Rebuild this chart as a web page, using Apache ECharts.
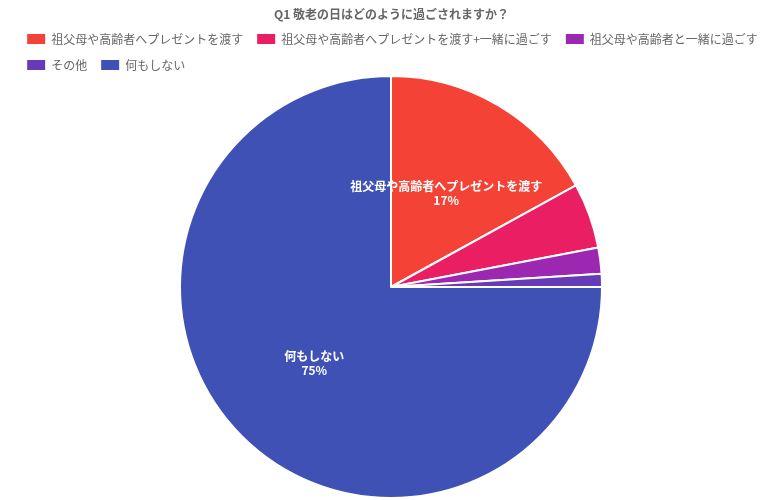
<!DOCTYPE html>
<html>
<head>
<meta charset="utf-8">
<script src="https://cdn.jsdelivr.net/npm/echarts@6/dist/echarts.min.js"></script>
<style>
  html, body { margin: 0; padding: 0; background: #fff; }
  #chart { width: 783px; height: 500px; }
</style>
</head>
<body>
<div id="chart"></div>
<script>
var categories = ['祖父母や高齢者へプレゼントを渡す', '祖父母や高齢者へプレゼントを渡す+一緒に過ごす', '祖父母や高齢者と一緒に過ごす', 'その他', '何もしない'];
var values = [17, 5, 2, 1, 75];
var colors = ['#f44336', '#e91e63', '#9c27b0', '#673ab7', '#3f51b5'];

var myChart = echarts.init(document.getElementById('chart'));
var total = values.reduce(function(a, b){ return a + b; }, 0);
var option = {
  animation: false,
  title: {
    text: 'Q1 敬老の日はどのように過ごされますか？',
    left: 'center',
    top: 3,
    textStyle: { fontSize: 12, fontWeight: 'bold', color: '#666', fontFamily: 'Noto Sans CJK JP' }
  },
  legend: {
    top: 27,
    left: 'center',
    width: 760,
    itemWidth: 20,
    itemHeight: 12,
    itemGap: 12,
    icon: 'rect',
    textStyle: { fontSize: 12, color: '#666', fontFamily: 'Noto Sans CJK JP' },
    data: categories
  },
  series: [{
    type: 'pie',
    center: [391, 287],
    radius: 211,
    startAngle: 90,
    clockwise: true,
    color: colors,
    itemStyle: { borderColor: '#fff', borderWidth: 2 },
    label: {
      show: true,
      position: 'inside',
      color: '#fff',
      fontWeight: 'bold',
      fontSize: 12,
      fontFamily: 'Noto Sans CJK JP',
      lineHeight: 14,
      formatter: function(p){
        var pct = Math.round(p.value / total * 100);
        return pct >= 10 ? p.name + '\n' + pct + '%' : '';
      }
    },
    labelLine: { show: false },
    emphasis: { scale: false },
    data: categories.map(function(c, i){ return { name: c, value: values[i] }; })
  }]
};
myChart.setOption(option);
</script>
</body>
</html>
